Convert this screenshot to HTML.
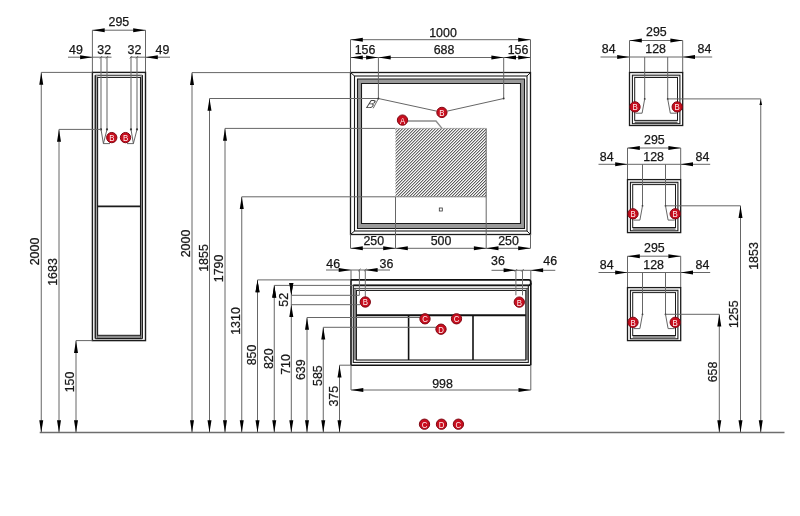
<!DOCTYPE html>
<html><head><meta charset="utf-8"><style>
html,body{margin:0;padding:0;background:#fff;}
svg{display:block;will-change:transform;}
text{font-family:"Liberation Sans",sans-serif;fill:#161616;stroke:#161616;stroke-width:0.25px;}
text.cl{fill:#fff0f0;stroke:none;}
text.it{fill:#444;stroke:none;}
</style></head><body>
<svg width="800" height="516" viewBox="0 0 800 516">
<defs><pattern id="hatch" width="2.12" height="2.12" patternUnits="userSpaceOnUse" patternTransform="rotate(-45)">
<rect width="2.12" height="2.12" fill="#fff"/><rect width="2.12" height="0.9" fill="#4d4d4d"/></pattern></defs>
<rect width="800" height="516" fill="#fff"/>
<line x1="39.7" y1="432.5" x2="784.5" y2="432.5" stroke="#6e6e6e" stroke-width="1.3"/>
<line x1="92.4" y1="30.2" x2="92.4" y2="72.4" stroke="#666666" stroke-width="1"/>
<line x1="145.5" y1="30.2" x2="145.5" y2="72.4" stroke="#666666" stroke-width="1"/>
<line x1="92.4" y1="30.2" x2="145.5" y2="30.2" stroke="#666666" stroke-width="1"/>
<polygon points="92.4,30.2 104.7,28.2 104.7,32.2" fill="#000"/>
<polygon points="145.5,30.2 133.2,28.2 133.2,32.2" fill="#000"/>
<text x="118.9" y="25.6" font-size="12.4" text-anchor="middle">295</text>
<rect x="92.4" y="72.4" width="53.1" height="268.2" fill="none" stroke="#1c1c1c" stroke-width="1.4"/>
<line x1="95.3" y1="75.2" x2="95.3" y2="338.6" stroke="#1c1c1c" stroke-width="1.1"/>
<line x1="142.3" y1="75.2" x2="142.3" y2="338.6" stroke="#1c1c1c" stroke-width="1.1"/>
<line x1="95.3" y1="75.2" x2="142.3" y2="75.2" stroke="#1c1c1c" stroke-width="1.1"/>
<line x1="95.3" y1="338.6" x2="142.3" y2="338.6" stroke="#1c1c1c" stroke-width="1.1"/>
<rect x="95.4" y="75.2" width="2.2" height="263" fill="#a0a0a0"/>
<rect x="140.5" y="75.2" width="2.0" height="263" fill="#a0a0a0"/>
<line x1="95.3" y1="75.2" x2="95.3" y2="338.6" stroke="#1c1c1c" stroke-width="1.1"/>
<line x1="142.4" y1="75.2" x2="142.4" y2="338.6" stroke="#1c1c1c" stroke-width="1.1"/>
<rect x="97.6" y="77.4" width="42.9" height="260.6" fill="#fff" stroke="#1c1c1c" stroke-width="1.1"/>
<rect x="97.3" y="335.3" width="43.3" height="2.7" fill="#8a8a8a"/>
<line x1="97.3" y1="335.3" x2="140.6" y2="335.3" stroke="#1c1c1c" stroke-width="1"/>
<line x1="97.3" y1="206.4" x2="140.6" y2="206.4" stroke="#1c1c1c" stroke-width="1.7"/>
<line x1="68" y1="57.2" x2="111.5" y2="57.2" stroke="#666666" stroke-width="1"/>
<line x1="130.2" y1="57.2" x2="170" y2="57.2" stroke="#666666" stroke-width="1"/>
<polygon points="92.4,57.2 80.1,55.2 80.1,59.2" fill="#000"/>
<polygon points="145.5,57.2 157.8,55.2 157.8,59.2" fill="#000"/>
<line x1="101" y1="57.2" x2="101" y2="129.4" stroke="#707070" stroke-width="1.1"/>
<line x1="99.8" y1="58.4" x2="102.2" y2="56" stroke="#555" stroke-width="0.9"/>
<circle cx="101" cy="129.4" r="1.1" fill="#333"/>
<line x1="107" y1="57.2" x2="107" y2="129.4" stroke="#707070" stroke-width="1.1"/>
<line x1="105.8" y1="58.4" x2="108.2" y2="56" stroke="#555" stroke-width="0.9"/>
<circle cx="107" cy="129.4" r="1.1" fill="#333"/>
<line x1="131" y1="57.2" x2="131" y2="129.4" stroke="#707070" stroke-width="1.1"/>
<line x1="129.8" y1="58.4" x2="132.2" y2="56" stroke="#555" stroke-width="0.9"/>
<circle cx="131" cy="129.4" r="1.1" fill="#333"/>
<line x1="137" y1="57.2" x2="137" y2="129.4" stroke="#707070" stroke-width="1.1"/>
<line x1="135.8" y1="58.4" x2="138.2" y2="56" stroke="#555" stroke-width="0.9"/>
<circle cx="137" cy="129.4" r="1.1" fill="#333"/>
<text x="76" y="54.3" font-size="12.4" text-anchor="middle">49</text>
<text x="104.2" y="54.3" font-size="12.4" text-anchor="middle">32</text>
<text x="134.4" y="54.3" font-size="12.4" text-anchor="middle">32</text>
<text x="162.5" y="54.3" font-size="12.4" text-anchor="middle">49</text>
<polyline points="101,129.4 103.4,143.6 107,129.4" fill="none" stroke="#555" stroke-width="0.9"/>
<line x1="103.4" y1="143.6" x2="110" y2="143.6" stroke="#555" stroke-width="0.9"/>
<polyline points="131,129.4 133.4,143.6 137,129.4" fill="none" stroke="#555" stroke-width="0.9"/>
<line x1="133.4" y1="143.6" x2="127" y2="143.6" stroke="#555" stroke-width="0.9"/>
<line x1="41.25" y1="72.4" x2="92.4" y2="72.4" stroke="#666666" stroke-width="1"/>
<line x1="41.25" y1="72.4" x2="41.25" y2="432.5" stroke="#666666" stroke-width="1"/>
<polygon points="41.25,72.4 39.25,84.7 43.25,84.7" fill="#000"/>
<polygon points="41.25,432.5 39.25,420.2 43.25,420.2" fill="#000"/>
<text transform="translate(35,251.5) rotate(-90)" x="0" y="4.46" font-size="12.4" text-anchor="middle">2000</text>
<line x1="59" y1="129.4" x2="101" y2="129.4" stroke="#666666" stroke-width="1"/>
<line x1="59" y1="129.4" x2="59" y2="432.5" stroke="#666666" stroke-width="1"/>
<polygon points="59,129.4 57,141.7 61,141.7" fill="#000"/>
<polygon points="59,432.5 57,420.2 61,420.2" fill="#000"/>
<text transform="translate(52.5,272) rotate(-90)" x="0" y="4.46" font-size="12.4" text-anchor="middle">1683</text>
<line x1="76" y1="340.6" x2="92.4" y2="340.6" stroke="#666666" stroke-width="1"/>
<line x1="76" y1="340.6" x2="76" y2="432.5" stroke="#666666" stroke-width="1"/>
<polygon points="76,340.6 74,352.9 78,352.9" fill="#000"/>
<polygon points="76,432.5 74,420.2 78,420.2" fill="#000"/>
<text transform="translate(70,382) rotate(-90)" x="0" y="4.46" font-size="12.4" text-anchor="middle">150</text>
<circle cx="111.75" cy="137.6" r="5.15" fill="#c80e1e" stroke="#7e0612" stroke-width="1"/>
<text transform="translate(111.75,141) scale(0.82,1)" x="0" y="0" font-size="9.6" text-anchor="middle" class="cl">B</text>
<circle cx="125.5" cy="137.6" r="5.15" fill="#c80e1e" stroke="#7e0612" stroke-width="1"/>
<text transform="translate(125.5,141) scale(0.82,1)" x="0" y="0" font-size="9.6" text-anchor="middle" class="cl">B</text>
<line x1="350.5" y1="39.7" x2="350.5" y2="72.7" stroke="#666666" stroke-width="1"/>
<line x1="530.5" y1="39.7" x2="530.5" y2="72.7" stroke="#666666" stroke-width="1"/>
<line x1="350.5" y1="39.7" x2="530.5" y2="39.7" stroke="#666666" stroke-width="1"/>
<polygon points="350.5,39.7 362.8,37.7 362.8,41.7" fill="#000"/>
<polygon points="530.5,39.7 518.2,37.7 518.2,41.7" fill="#000"/>
<text x="443" y="36.6" font-size="12.4" text-anchor="middle">1000</text>
<line x1="350.5" y1="57.5" x2="530.5" y2="57.5" stroke="#666666" stroke-width="1"/>
<polygon points="350.5,57.5 362.8,55.5 362.8,59.5" fill="#000"/>
<polygon points="378.4,57.5 366.1,55.5 366.1,59.5" fill="#000"/>
<polygon points="378.4,57.5 390.7,55.5 390.7,59.5" fill="#000"/>
<polygon points="503.7,57.5 491.4,55.5 491.4,59.5" fill="#000"/>
<polygon points="503.7,57.5 516,55.5 516,59.5" fill="#000"/>
<polygon points="530.5,57.5 518.2,55.5 518.2,59.5" fill="#000"/>
<text x="365" y="53.9" font-size="12.4" text-anchor="middle">156</text>
<text x="444" y="53.9" font-size="12.4" text-anchor="middle">688</text>
<text x="518" y="53.9" font-size="12.4" text-anchor="middle">156</text>
<rect x="350.5" y="72.5" width="180" height="162" fill="none" stroke="#1c1c1c" stroke-width="1.3"/>
<rect x="354.5" y="76" width="172.5" height="155" fill="none" stroke="#1c1c1c" stroke-width="1.1"/>
<line x1="350.5" y1="72.5" x2="354.5" y2="76" stroke="#1c1c1c" stroke-width="1"/>
<line x1="530.5" y1="72.5" x2="527" y2="76" stroke="#1c1c1c" stroke-width="1"/>
<line x1="350.5" y1="234.5" x2="354.5" y2="231" stroke="#1c1c1c" stroke-width="1"/>
<line x1="530.5" y1="234.5" x2="527" y2="231" stroke="#1c1c1c" stroke-width="1"/>
<path d="M357.5,79 H524.5 V228.5 H357.5 Z M361.5,83.5 V223.5 H520.5 V83.5 Z" fill="#9a9a9a" fill-rule="evenodd" stroke="#1a1a1a" stroke-width="1.1"/>
<line x1="192" y1="72.6" x2="351" y2="72.6" stroke="#666666" stroke-width="1"/>
<line x1="209.5" y1="98.5" x2="378.4" y2="98.5" stroke="#666666" stroke-width="1"/>
<line x1="225" y1="128.4" x2="395.5" y2="128.4" stroke="#666666" stroke-width="1"/>
<line x1="241.75" y1="196.8" x2="395.5" y2="196.8" stroke="#666666" stroke-width="1"/>
<line x1="378.4" y1="57.5" x2="378.4" y2="98.5" stroke="#666666" stroke-width="1"/>
<line x1="503.7" y1="57.5" x2="503.7" y2="98.5" stroke="#666666" stroke-width="1"/>
<rect x="395.5" y="128.4" width="90.7" height="68.4" fill="url(#hatch)"/>
<line x1="395.5" y1="196.8" x2="395.5" y2="248.3" stroke="#666666" stroke-width="1"/>
<line x1="486.2" y1="128.4" x2="486.2" y2="248.3" stroke="#666666" stroke-width="1"/>
<line x1="395.5" y1="128.4" x2="486.2" y2="128.4" stroke="#888" stroke-width="0.6"/>
<line x1="395.5" y1="196.8" x2="486.2" y2="196.8" stroke="#777" stroke-width="0.9"/>
<rect x="439.3" y="208" width="3" height="3" fill="none" stroke="#333" stroke-width="0.8"/>
<line x1="378.4" y1="98.5" x2="436.5" y2="111.1" stroke="#666" stroke-width="1"/>
<line x1="503.7" y1="98.5" x2="447.3" y2="111.1" stroke="#666" stroke-width="1"/>
<circle cx="378.4" cy="98.5" r="0.9" fill="#333"/>
<circle cx="503.7" cy="98.5" r="0.9" fill="#333"/>
<text x="0" y="0" font-size="11.5" font-style="italic" class="it" transform="translate(365.6,108) skewX(-24)">B</text>
<line x1="378.4" y1="98.5" x2="373.2" y2="108.3" stroke="#444" stroke-width="0.8"/>
<circle cx="441.9" cy="112.4" r="5.15" fill="#c80e1e" stroke="#7e0612" stroke-width="1"/>
<text transform="translate(441.9,115.8) scale(0.82,1)" x="0" y="0" font-size="9.6" text-anchor="middle" class="cl">B</text>
<polyline points="408,121 436,121 442,128.4" fill="none" stroke="#8c8c8c" stroke-width="1.4"/>
<circle cx="402.5" cy="120.1" r="5.15" fill="#c80e1e" stroke="#7e0612" stroke-width="1"/>
<text transform="translate(402.5,123.5) scale(0.82,1)" x="0" y="0" font-size="9.6" text-anchor="middle" class="cl">A</text>
<line x1="350.5" y1="234.1" x2="350.5" y2="248.3" stroke="#666666" stroke-width="1"/>
<line x1="530.5" y1="234.1" x2="530.5" y2="248.3" stroke="#666666" stroke-width="1"/>
<line x1="350.5" y1="248.3" x2="530.5" y2="248.3" stroke="#666666" stroke-width="1"/>
<polygon points="350.5,248.3 362.8,246.3 362.8,250.3" fill="#000"/>
<polygon points="395.5,248.3 383.2,246.3 383.2,250.3" fill="#000"/>
<polygon points="395.5,248.3 407.8,246.3 407.8,250.3" fill="#000"/>
<polygon points="486.2,248.3 473.9,246.3 473.9,250.3" fill="#000"/>
<polygon points="486.2,248.3 498.5,246.3 498.5,250.3" fill="#000"/>
<polygon points="530.5,248.3 518.2,246.3 518.2,250.3" fill="#000"/>
<text x="373.8" y="244.7" font-size="12.4" text-anchor="middle">250</text>
<text x="441" y="244.7" font-size="12.4" text-anchor="middle">500</text>
<text x="508.5" y="244.7" font-size="12.4" text-anchor="middle">250</text>
<line x1="192" y1="72.6" x2="192" y2="432.5" stroke="#666666" stroke-width="1"/>
<polygon points="192,72.6 190,84.9 194,84.9" fill="#000"/>
<polygon points="192,432.5 190,420.2 194,420.2" fill="#000"/>
<text transform="translate(186,243.5) rotate(-90)" x="0" y="4.46" font-size="12.4" text-anchor="middle">2000</text>
<line x1="209.5" y1="98.5" x2="209.5" y2="432.5" stroke="#666666" stroke-width="1"/>
<polygon points="209.5,98.5 207.5,110.8 211.5,110.8" fill="#000"/>
<polygon points="209.5,432.5 207.5,420.2 211.5,420.2" fill="#000"/>
<text transform="translate(203.5,258) rotate(-90)" x="0" y="4.46" font-size="12.4" text-anchor="middle">1855</text>
<line x1="225" y1="128.4" x2="225" y2="432.5" stroke="#666666" stroke-width="1"/>
<polygon points="225,128.4 223,140.7 227,140.7" fill="#000"/>
<polygon points="225,432.5 223,420.2 227,420.2" fill="#000"/>
<text transform="translate(219,268.4) rotate(-90)" x="0" y="4.46" font-size="12.4" text-anchor="middle">1790</text>
<line x1="241.75" y1="196.8" x2="241.75" y2="432.5" stroke="#666666" stroke-width="1"/>
<polygon points="241.75,196.8 239.75,209.1 243.75,209.1" fill="#000"/>
<polygon points="241.75,432.5 239.75,420.2 243.75,420.2" fill="#000"/>
<text transform="translate(235.75,321) rotate(-90)" x="0" y="4.46" font-size="12.4" text-anchor="middle">1310</text>
<line x1="257.5" y1="279.9" x2="257.5" y2="432.5" stroke="#666666" stroke-width="1"/>
<polygon points="257.5,279.9 255.5,292.2 259.5,292.2" fill="#000"/>
<polygon points="257.5,432.5 255.5,420.2 259.5,420.2" fill="#000"/>
<text transform="translate(251.5,355) rotate(-90)" x="0" y="4.46" font-size="12.4" text-anchor="middle">850</text>
<line x1="274.25" y1="285.3" x2="274.25" y2="432.5" stroke="#666666" stroke-width="1"/>
<polygon points="274.25,285.3 272.25,297.6 276.25,297.6" fill="#000"/>
<polygon points="274.25,432.5 272.25,420.2 276.25,420.2" fill="#000"/>
<text transform="translate(268.25,358.75) rotate(-90)" x="0" y="4.46" font-size="12.4" text-anchor="middle">820</text>
<line x1="291.3" y1="304.7" x2="291.3" y2="432.5" stroke="#666666" stroke-width="1"/>
<polygon points="291.3,304.7 289.3,317 293.3,317" fill="#000"/>
<polygon points="291.3,432.5 289.3,420.2 293.3,420.2" fill="#000"/>
<text transform="translate(285.3,364.5) rotate(-90)" x="0" y="4.46" font-size="12.4" text-anchor="middle">710</text>
<line x1="307" y1="317.5" x2="307" y2="432.5" stroke="#666666" stroke-width="1"/>
<polygon points="307,317.5 305,329.8 309,329.8" fill="#000"/>
<polygon points="307,432.5 305,420.2 309,420.2" fill="#000"/>
<text transform="translate(301,369.75) rotate(-90)" x="0" y="4.46" font-size="12.4" text-anchor="middle">639</text>
<line x1="323.25" y1="327.3" x2="323.25" y2="432.5" stroke="#666666" stroke-width="1"/>
<polygon points="323.25,327.3 321.25,339.6 325.25,339.6" fill="#000"/>
<polygon points="323.25,432.5 321.25,420.2 325.25,420.2" fill="#000"/>
<text transform="translate(317.25,375.6) rotate(-90)" x="0" y="4.46" font-size="12.4" text-anchor="middle">585</text>
<line x1="339.5" y1="365.2" x2="339.5" y2="432.5" stroke="#666666" stroke-width="1"/>
<polygon points="339.5,365.2 337.5,377.5 341.5,377.5" fill="#000"/>
<polygon points="339.5,432.5 337.5,420.2 341.5,420.2" fill="#000"/>
<text transform="translate(333.5,396.25) rotate(-90)" x="0" y="4.46" font-size="12.4" text-anchor="middle">375</text>
<line x1="291.3" y1="283.5" x2="291.3" y2="305" stroke="#666666" stroke-width="1"/>
<polygon points="291.3,295.3 289.3,283 293.3,283" fill="#000"/>
<text transform="translate(283.3,299.8) rotate(-90)" x="0" y="4.46" font-size="12.4" text-anchor="middle">52</text>
<line x1="326" y1="270" x2="390" y2="270" stroke="#666666" stroke-width="1"/>
<polygon points="351,270 338.7,268 338.7,272" fill="#000"/>
<polygon points="365.3,270 377.6,268 377.6,272" fill="#000"/>
<line x1="358.2" y1="271.2" x2="360.6" y2="268.8" stroke="#555" stroke-width="0.9"/>
<line x1="364.1" y1="271.2" x2="366.5" y2="268.8" stroke="#555" stroke-width="0.9"/>
<text x="333.2" y="267.8" font-size="12.4" text-anchor="middle">46</text>
<text x="386.4" y="267.6" font-size="12.4" text-anchor="middle">36</text>
<line x1="491.5" y1="270.3" x2="555.3" y2="270.3" stroke="#666666" stroke-width="1"/>
<polygon points="515.9,270.3 503.6,268.3 503.6,272.3" fill="#000"/>
<polygon points="530.8,270.3 543.1,268.3 543.1,272.3" fill="#000"/>
<line x1="514.7" y1="271.5" x2="517.1" y2="269.1" stroke="#555" stroke-width="0.9"/>
<line x1="521.3" y1="271.5" x2="523.7" y2="269.1" stroke="#555" stroke-width="0.9"/>
<text x="498" y="265.4" font-size="12.4" text-anchor="middle">36</text>
<text x="550.2" y="265.4" font-size="12.4" text-anchor="middle">46</text>
<line x1="351" y1="270" x2="351" y2="279.9" stroke="#666666" stroke-width="1"/>
<line x1="530.8" y1="270.3" x2="530.8" y2="279.9" stroke="#666666" stroke-width="1"/>
<path d="M351,279.9 H528.8 Q530.8,279.9 530.8,281.9 V283.3 Q530.8,285.3 528.8,285.3 H353.3" fill="none" stroke="#111" stroke-width="1.8"/>
<line x1="351" y1="279" x2="351" y2="365.2" stroke="#111" stroke-width="1.6"/>
<line x1="530.8" y1="283" x2="530.8" y2="365.2" stroke="#111" stroke-width="1.6"/>
<line x1="351" y1="365.2" x2="530.8" y2="365.2" stroke="#111" stroke-width="1.4"/>
<rect x="353.7" y="288.4" width="2.4" height="71.6" fill="#8c8c8c"/>
<rect x="525.9" y="288.4" width="2.2" height="71.6" fill="#8c8c8c"/>
<rect x="353.3" y="285.4" width="175" height="77" fill="none" stroke="#1a1a1a" stroke-width="1.1"/>
<line x1="353.3" y1="288.4" x2="528.3" y2="288.4" stroke="#333" stroke-width="0.9"/>
<rect x="356.4" y="290.4" width="169.4" height="69.6" fill="#fff" stroke="#1a1a1a" stroke-width="1.1"/>
<line x1="356.4" y1="315.2" x2="525.8" y2="315.2" stroke="#111" stroke-width="2"/>
<line x1="408.6" y1="315.2" x2="408.6" y2="360" stroke="#111" stroke-width="1.6"/>
<line x1="473" y1="315.2" x2="473" y2="360" stroke="#111" stroke-width="1.6"/>
<line x1="257.5" y1="279.9" x2="351" y2="279.9" stroke="#666666" stroke-width="1"/>
<line x1="274.25" y1="285.4" x2="353.3" y2="285.4" stroke="#666666" stroke-width="1"/>
<line x1="291.3" y1="295.3" x2="359.4" y2="295.3" stroke="#666666" stroke-width="1"/>
<line x1="291.3" y1="304.7" x2="360" y2="304.7" stroke="#666666" stroke-width="1"/>
<line x1="307" y1="317.5" x2="420" y2="317.5" stroke="#666666" stroke-width="1"/>
<line x1="323.25" y1="327.3" x2="436" y2="327.3" stroke="#666666" stroke-width="1"/>
<line x1="339.5" y1="365.2" x2="351" y2="365.2" stroke="#666666" stroke-width="1"/>
<polygon points="291.3,295.3 289.3,283 293.3,283" fill="#000"/>
<polygon points="274.25,285.4 272.25,297.7 276.25,297.7" fill="#000"/>
<polygon points="257.5,279.9 255.5,292.2 259.5,292.2" fill="#000"/>
<line x1="359.4" y1="270" x2="359.4" y2="295.3" stroke="#707070" stroke-width="1"/>
<line x1="365.3" y1="270" x2="365.3" y2="297" stroke="#707070" stroke-width="1"/>
<line x1="515.9" y1="270.3" x2="515.9" y2="295.3" stroke="#707070" stroke-width="1"/>
<line x1="522.5" y1="270.3" x2="522.5" y2="295.3" stroke="#707070" stroke-width="1"/>
<circle cx="365.3" cy="302" r="5.15" fill="#c80e1e" stroke="#7e0612" stroke-width="1"/>
<text transform="translate(365.3,305.4) scale(0.82,1)" x="0" y="0" font-size="9.6" text-anchor="middle" class="cl">B</text>
<circle cx="519.3" cy="302.1" r="5.15" fill="#c80e1e" stroke="#7e0612" stroke-width="1"/>
<text transform="translate(519.3,305.5) scale(0.82,1)" x="0" y="0" font-size="9.6" text-anchor="middle" class="cl">B</text>
<circle cx="425" cy="318.8" r="5.15" fill="#c80e1e" stroke="#7e0612" stroke-width="1"/>
<text transform="translate(425,322.2) scale(0.82,1)" x="0" y="0" font-size="9.6" text-anchor="middle" class="cl">C</text>
<circle cx="456.5" cy="318.8" r="5.15" fill="#c80e1e" stroke="#7e0612" stroke-width="1"/>
<text transform="translate(456.5,322.2) scale(0.82,1)" x="0" y="0" font-size="9.6" text-anchor="middle" class="cl">C</text>
<circle cx="441" cy="329.2" r="5.15" fill="#c80e1e" stroke="#7e0612" stroke-width="1"/>
<text transform="translate(441,332.6) scale(0.82,1)" x="0" y="0" font-size="9.6" text-anchor="middle" class="cl">D</text>
<line x1="351" y1="365.2" x2="351" y2="390" stroke="#666666" stroke-width="1"/>
<line x1="530.8" y1="365.2" x2="530.8" y2="390" stroke="#666666" stroke-width="1"/>
<line x1="351" y1="390" x2="530.8" y2="390" stroke="#666666" stroke-width="1"/>
<polygon points="351,390 363.3,388 363.3,392" fill="#000"/>
<polygon points="530.8,390 518.5,388 518.5,392" fill="#000"/>
<text x="442.5" y="388" font-size="12.4" text-anchor="middle">998</text>
<circle cx="424.5" cy="424.2" r="5.15" fill="#c80e1e" stroke="#7e0612" stroke-width="1"/>
<text transform="translate(424.5,427.6) scale(0.82,1)" x="0" y="0" font-size="9.6" text-anchor="middle" class="cl">C</text>
<circle cx="441.5" cy="424.2" r="5.15" fill="#c80e1e" stroke="#7e0612" stroke-width="1"/>
<text transform="translate(441.5,427.6) scale(0.82,1)" x="0" y="0" font-size="9.6" text-anchor="middle" class="cl">D</text>
<circle cx="458.4" cy="424.2" r="5.15" fill="#c80e1e" stroke="#7e0612" stroke-width="1"/>
<text transform="translate(458.4,427.6) scale(0.82,1)" x="0" y="0" font-size="9.6" text-anchor="middle" class="cl">C</text>
<line x1="629.5" y1="40.5" x2="629.5" y2="72.5" stroke="#666666" stroke-width="1"/>
<line x1="682.7" y1="40.5" x2="682.7" y2="72.5" stroke="#666666" stroke-width="1"/>
<line x1="629.5" y1="40.5" x2="682.7" y2="40.5" stroke="#666666" stroke-width="1"/>
<polygon points="629.5,40.5 641.8,38.5 641.8,42.5" fill="#000"/>
<polygon points="682.7,40.5 670.4,38.5 670.4,42.5" fill="#000"/>
<text x="656.4" y="36.3" font-size="12.4" text-anchor="middle">295</text>
<line x1="600.5" y1="57" x2="712.2" y2="57" stroke="#666666" stroke-width="1"/>
<polygon points="629.5,57 617.2,55 617.2,59" fill="#000"/>
<polygon points="682.7,57 695,55 695,59" fill="#000"/>
<text x="655.6" y="53.2" font-size="12.4" text-anchor="middle">128</text>
<text x="608.7" y="53.2" font-size="12.4" text-anchor="middle">84</text>
<text x="704.4" y="53.2" font-size="12.4" text-anchor="middle">84</text>
<rect x="629.5" y="72.5" width="53.2" height="53" fill="none" stroke="#1c1c1c" stroke-width="1.3"/>
<rect x="632.4" y="75.2" width="47.5" height="48.5" fill="none" stroke="#1c1c1c" stroke-width="1.1"/>
<line x1="633" y1="76.4" x2="679.2" y2="76.4" stroke="#bbb" stroke-width="0.6"/>
<line x1="634.7" y1="122.2" x2="677.5" y2="122.2" stroke="#1c1c1c" stroke-width="1"/>
<rect x="634.7" y="77.5" width="42.8" height="42.9" fill="none" stroke="#1c1c1c" stroke-width="1"/>
<line x1="644.7" y1="57" x2="644.7" y2="98.9" stroke="#666" stroke-width="1"/>
<line x1="667.7" y1="57" x2="667.7" y2="98.9" stroke="#666" stroke-width="1"/>
<circle cx="644.7" cy="98.9" r="0.9" fill="#333"/>
<circle cx="667.7" cy="98.9" r="0.9" fill="#333"/>
<polyline points="644.7,98.9 642.1,113.2 635.5,113.2" fill="none" stroke="#555" stroke-width="0.9"/>
<polyline points="667.7,98.9 670.3,113.2 676.7,113.2" fill="none" stroke="#555" stroke-width="0.9"/>
<circle cx="635" cy="106.9" r="5.15" fill="#c80e1e" stroke="#7e0612" stroke-width="1"/>
<text transform="translate(635,110.3) scale(0.82,1)" x="0" y="0" font-size="9.6" text-anchor="middle" class="cl">B</text>
<circle cx="677.2" cy="106.9" r="5.15" fill="#c80e1e" stroke="#7e0612" stroke-width="1"/>
<text transform="translate(677.2,110.3) scale(0.82,1)" x="0" y="0" font-size="9.6" text-anchor="middle" class="cl">B</text>
<line x1="667.7" y1="98.9" x2="760.75" y2="98.9" stroke="#666666" stroke-width="1"/>
<line x1="627.5" y1="148" x2="627.5" y2="179.6" stroke="#666666" stroke-width="1"/>
<line x1="680.7" y1="148" x2="680.7" y2="179.6" stroke="#666666" stroke-width="1"/>
<line x1="627.5" y1="148" x2="680.7" y2="148" stroke="#666666" stroke-width="1"/>
<polygon points="627.5,148 639.8,146 639.8,150" fill="#000"/>
<polygon points="680.7,148 668.4,146 668.4,150" fill="#000"/>
<text x="654.4" y="143.8" font-size="12.4" text-anchor="middle">295</text>
<line x1="598.5" y1="164.3" x2="710.2" y2="164.3" stroke="#666666" stroke-width="1"/>
<polygon points="627.5,164.3 615.2,162.3 615.2,166.3" fill="#000"/>
<polygon points="680.7,164.3 693,162.3 693,166.3" fill="#000"/>
<text x="653.6" y="160.5" font-size="12.4" text-anchor="middle">128</text>
<text x="606.7" y="160.5" font-size="12.4" text-anchor="middle">84</text>
<text x="702.4" y="160.5" font-size="12.4" text-anchor="middle">84</text>
<rect x="627.5" y="179.6" width="53.2" height="53" fill="none" stroke="#1c1c1c" stroke-width="1.3"/>
<rect x="630.4" y="182.3" width="47.5" height="48.5" fill="none" stroke="#1c1c1c" stroke-width="1.1"/>
<line x1="631" y1="183.5" x2="677.2" y2="183.5" stroke="#bbb" stroke-width="0.6"/>
<rect x="632.7" y="227.5" width="42.8" height="2.6" fill="#8f8f8f"/>
<rect x="632.7" y="184.6" width="42.8" height="42.9" fill="none" stroke="#1c1c1c" stroke-width="1"/>
<line x1="642.5" y1="164.3" x2="642.5" y2="205.8" stroke="#666" stroke-width="1"/>
<line x1="665.5" y1="164.3" x2="665.5" y2="205.8" stroke="#666" stroke-width="1"/>
<circle cx="642.5" cy="205.8" r="0.9" fill="#333"/>
<circle cx="665.5" cy="205.8" r="0.9" fill="#333"/>
<polyline points="642.5,205.8 639.9,220.1 633.5,220.1" fill="none" stroke="#555" stroke-width="0.9"/>
<polyline points="665.5,205.8 668.1,220.1 674.7,220.1" fill="none" stroke="#555" stroke-width="0.9"/>
<circle cx="633" cy="213.8" r="5.15" fill="#c80e1e" stroke="#7e0612" stroke-width="1"/>
<text transform="translate(633,217.2) scale(0.82,1)" x="0" y="0" font-size="9.6" text-anchor="middle" class="cl">B</text>
<circle cx="675.2" cy="213.8" r="5.15" fill="#c80e1e" stroke="#7e0612" stroke-width="1"/>
<text transform="translate(675.2,217.2) scale(0.82,1)" x="0" y="0" font-size="9.6" text-anchor="middle" class="cl">B</text>
<line x1="665.5" y1="205.8" x2="740.5" y2="205.8" stroke="#666666" stroke-width="1"/>
<line x1="627.5" y1="256.2" x2="627.5" y2="287.6" stroke="#666666" stroke-width="1"/>
<line x1="680.7" y1="256.2" x2="680.7" y2="287.6" stroke="#666666" stroke-width="1"/>
<line x1="627.5" y1="256.2" x2="680.7" y2="256.2" stroke="#666666" stroke-width="1"/>
<polygon points="627.5,256.2 639.8,254.2 639.8,258.2" fill="#000"/>
<polygon points="680.7,256.2 668.4,254.2 668.4,258.2" fill="#000"/>
<text x="654.4" y="252" font-size="12.4" text-anchor="middle">295</text>
<line x1="598.5" y1="272.5" x2="710.2" y2="272.5" stroke="#666666" stroke-width="1"/>
<polygon points="627.5,272.5 615.2,270.5 615.2,274.5" fill="#000"/>
<polygon points="680.7,272.5 693,270.5 693,274.5" fill="#000"/>
<text x="653.6" y="268.7" font-size="12.4" text-anchor="middle">128</text>
<text x="606.7" y="268.7" font-size="12.4" text-anchor="middle">84</text>
<text x="702.4" y="268.7" font-size="12.4" text-anchor="middle">84</text>
<rect x="627.5" y="287.6" width="53.2" height="53" fill="none" stroke="#1c1c1c" stroke-width="1.3"/>
<rect x="630.4" y="290.3" width="47.5" height="48.5" fill="none" stroke="#1c1c1c" stroke-width="1.1"/>
<line x1="631" y1="291.5" x2="677.2" y2="291.5" stroke="#bbb" stroke-width="0.6"/>
<rect x="632.7" y="335.5" width="42.8" height="2.6" fill="#8f8f8f"/>
<rect x="632.7" y="292.6" width="42.8" height="42.9" fill="none" stroke="#1c1c1c" stroke-width="1"/>
<line x1="642.5" y1="272.5" x2="642.5" y2="314.3" stroke="#666" stroke-width="1"/>
<line x1="665.5" y1="272.5" x2="665.5" y2="314.3" stroke="#666" stroke-width="1"/>
<circle cx="642.5" cy="314.3" r="0.9" fill="#333"/>
<circle cx="665.5" cy="314.3" r="0.9" fill="#333"/>
<polyline points="642.5,314.3 639.9,328.6 633.5,328.6" fill="none" stroke="#555" stroke-width="0.9"/>
<polyline points="665.5,314.3 668.1,328.6 674.7,328.6" fill="none" stroke="#555" stroke-width="0.9"/>
<circle cx="633" cy="322.3" r="5.15" fill="#c80e1e" stroke="#7e0612" stroke-width="1"/>
<text transform="translate(633,325.7) scale(0.82,1)" x="0" y="0" font-size="9.6" text-anchor="middle" class="cl">B</text>
<circle cx="675.2" cy="322.3" r="5.15" fill="#c80e1e" stroke="#7e0612" stroke-width="1"/>
<text transform="translate(675.2,325.7) scale(0.82,1)" x="0" y="0" font-size="9.6" text-anchor="middle" class="cl">B</text>
<line x1="665.5" y1="314.3" x2="719.3" y2="314.3" stroke="#666666" stroke-width="1"/>
<line x1="760.75" y1="98.9" x2="760.75" y2="432.5" stroke="#666666" stroke-width="1"/>
<polygon points="760.75,432.5 758.75,420.2 762.75,420.2" fill="#000"/>
<polygon points="760.75,99.4 759.45,104.9 762.05,104.9" fill="#000"/>
<text transform="translate(753.55,256) rotate(-90)" x="0" y="4.46" font-size="12.4" text-anchor="middle">1853</text>
<line x1="740.5" y1="205.8" x2="740.5" y2="432.5" stroke="#666666" stroke-width="1"/>
<polygon points="740.5,432.5 738.5,420.2 742.5,420.2" fill="#000"/>
<polygon points="740.5,205.8 738.5,218.1 742.5,218.1" fill="#000"/>
<text transform="translate(733.3,314.2) rotate(-90)" x="0" y="4.46" font-size="12.4" text-anchor="middle">1255</text>
<line x1="719.3" y1="314.3" x2="719.3" y2="432.5" stroke="#666666" stroke-width="1"/>
<polygon points="719.3,432.5 717.3,420.2 721.3,420.2" fill="#000"/>
<polygon points="719.3,314.3 717.3,326.6 721.3,326.6" fill="#000"/>
<text transform="translate(712.1,372) rotate(-90)" x="0" y="4.46" font-size="12.4" text-anchor="middle">658</text>
</svg></body></html>
